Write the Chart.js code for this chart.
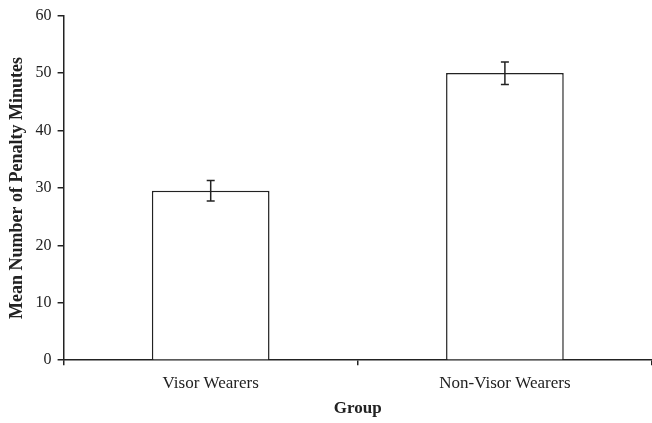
<!DOCTYPE html>
<html>
<head>
<meta charset="utf-8">
<script src="https://cdn.jsdelivr.net/npm/chart.js@4/dist/chart.umd.min.js"></script>
<style>
  body { margin: 0; background: #fff; }
  #wrap { width: 652px; height: 423px; }
</style>
</head>
<body>
<div id="wrap"><canvas id="barChart" width="652" height="423"></canvas></div>
<script>
const groups = ['Visor Wearers', 'Non-Visor Wearers'];
const meanMinutes = [29.5, 50.0];
const errLow = [27.7, 48.0];
const errHigh = [31.3, 51.9];
const yTicks = [0, 10, 20, 30, 40, 50, 60];

const ink = '#222';
const serif = '"Liberation Serif", "Times New Roman", serif';

// error bars drawn from the data arrays through the y scale
const errorBars = {
  id: 'errorBars',
  afterDatasetsDraw(chart) {
    const ctx = chart.ctx;
    const meta = chart.getDatasetMeta(0);
    const y = chart.scales.y;
    ctx.save();
    ctx.strokeStyle = ink;
    ctx.lineWidth = 1.5;
    meta.data.forEach((bar, i) => {
      const x = bar.x;
      const top = y.getPixelForValue(errHigh[i]);
      const bot = y.getPixelForValue(errLow[i]);
      ctx.beginPath();
      ctx.moveTo(x, top); ctx.lineTo(x, bot);
      ctx.moveTo(x - 4, top); ctx.lineTo(x + 4, top);
      ctx.moveTo(x - 4, bot); ctx.lineTo(x + 4, bot);
      ctx.stroke();
    });
    ctx.restore();
  }
};

const ctx = document.getElementById('barChart').getContext('2d');
new Chart(ctx, {
  type: 'bar',
  data: {
    labels: groups,
    datasets: [{
      data: meanMinutes,
      backgroundColor: '#fff',
      borderColor: ink,
      borderWidth: 1.5,
      categoryPercentage: 0.4,
      barPercentage: 1.0
    }]
  },
  options: {
    responsive: false,
    animation: false,
    layout: { padding: { top: 10, right: 0, left: 7, bottom: 0 } },
    plugins: { legend: { display: false }, tooltip: { enabled: false } },
    scales: {
      x: {
        offset: true,
        border: { color: ink, width: 1.5 },
        grid: { display: true, drawOnChartArea: false, drawTicks: true, offset: true, tickLength: 5, color: ink, lineWidth: 1.5 },
        ticks: { color: ink, font: { family: serif, size: 17 }, padding: 8 },
        title: { display: true, text: 'Group', color: ink, font: { family: serif, size: 17, weight: 'bold' }, padding: { top: -3, bottom: 4 } }
      },
      y: {
        min: 0,
        max: 60,
        afterBuildTicks(axis) { axis.ticks = yTicks.map(v => ({ value: v })); },
        border: { color: ink, width: 1.5 },
        grid: { display: true, drawOnChartArea: false, drawTicks: true, tickLength: 6, color: ink, lineWidth: 1.5 },
        ticks: { color: ink, font: { family: serif, size: 16 }, padding: 6 },
        title: { display: true, text: 'Mean Number of Penalty Minutes', color: ink, font: { family: serif, size: 18, weight: 'bold' }, padding: { top: 0, bottom: 1 } }
      }
    }
  },
  plugins: [errorBars]
});
</script>
</body>
</html>
